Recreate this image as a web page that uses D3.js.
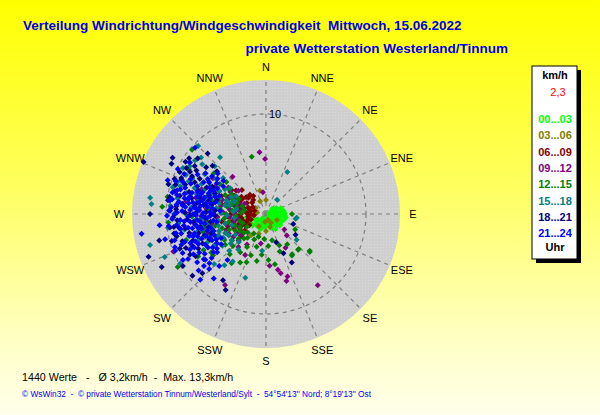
<!DOCTYPE html>
<html>
<head>
<meta charset="utf-8">
<script src="https://cdn.jsdelivr.net/npm/d3@7"></script>
<style>
  body { margin: 0; }
  svg { display: block; font-family: Arial, "Liberation Sans", sans-serif; }
</style>
</head>
<body>
<div class="chart-wrapper"></div>
<script>

// wind direction (deg) and speed (km/h) per 3 hour slot
const slots = ['00...03', '03...06', '06...09', '09...12', '12...15', '15...18', '18...21', '21...24']
const slotColors = ['#00ff00', '#808000', '#800000', '#800080', '#008000', '#008080', '#000080', '#0000ff']

const slot0 = [[63,0.45],[66,1.0],[85,1.2],[103,1.3],[121,1.2],[130,0.8],[166,0.8],[202,1.1],[225,1.4],[243,1.8],[249,1.4],[233,1.0],[117,0.45],[90,0.8],[75,1.55],[93,1.7],[132,1.5],[184,1.3],[70,0.7],[80,1.4],[95,1.0],[100,1.5],[110,0.9],[115,1.6],[125,1.0],[140,1.1],[145,0.6],[150,1.3],[155,0.9],[170,1.1],[175,0.5],[190,0.7],[195,1.4],[210,0.9],[215,1.5],[220,0.6],[240,1.2],[255,1.6],[260,2.0],[250,2.2],[88,1.9],[98,0.6],[108,1.9],[60,1.2],[50,0.8],[105,1.1],[120,1.7],[135,1.3],[85,0.3],[140,0.4],
  [80,1.8],[95,1.9],[100,2.0],[112,1.4],[118,1.2],[128,1.8],[138,1.6],[148,1.8],[160,1.5],[68,1.6],[78,1.0],[92,0.5],[107,0.6],[230,1.7],[236,2.0],[245,2.3],[200,1.6],[180,0.9]]

const slot1 = [[335,1.4],[162,0.6],[187,0.8],[230,3.1],[0,1.4],[119,1.25],[163,1.35],[300,1.2],[310,1.8],[320,2.2],[280,0.9],[260,1.5],[240,1.9],[210,1.4],[200,2.1],[150,1.0],[345,2.4],[290,2.6],[215,2.6],[180,1.7]]

const slot2 = [[289,2.8],[268,3.1],[320,2.5],[242,2.4],[305,4.2],[275,2.0],[280,1.6],[285,2.3],[290,1.9],[295,2.9],[300,2.2],[305,3.0],[310,2.6],[315,3.4],[262,2.5],[256,1.8],[250,2.9],[246,3.5],[240,3.0],[270,1.5],[264,1.2],[276,3.6],[282,3.9],[272,4.3],[266,3.8],[258,3.4],[252,4.0],[288,3.5],[294,4.1],[298,1.5],[310,1.8],[318,1.9],[325,2.2],[236,2.0],[232,2.7],[228,3.3],[278,2.8],[286,1.2],[260,4.5],[270,2.5],[300,3.7],[248,2.1],[292,4.8],[283,4.6],[267,4.9],
  [275,3.2],[280,2.7],[270,3.5],[265,2.8],[260,3.1],[255,2.4],[250,1.6],[245,2.6],[290,3.1],[296,3.5],[303,2.8],[308,3.8],[313,2.4],[285,1.7],[272,1.9],[262,1.8]]

const slot3 = [[136,3.0],[176,5.2],[168,5.7],[166,6.1],[163,7.0],[207,4.6],[212,3.6],[144,8.8],[354,6.2],[359,5.5],[352,2.2],[210,8.2],[248,10.0],[304,6.4],[318,5.0],[130,2.4],[150,3.9],[190,3.0],[161,6.6],
  [272,4.3],[278,3.7],[284,3.2],[289,2.7],[295,2.4],[266,4.9],[260,5.5],[255,4.1],[250,3.5],[245,3.0],[268,6.5],[275,6.0],[282,5.4],[288,4.6],[293,4.0],[300,3.5],[262,7.2],[257,6.7],[251,6.1],[246,5.5],[240,4.9],[270,7.7],[279,8.1],[291,6.9],[298,5.8],[305,4.6],[235,4.0],[230,3.3],[276,2.6],[261,2.9],
  [265,3.6],[271,3.1],[280,4.6],[286,4.1],[292,3.0],[256,3.3],[248,4.3],[242,4.2],[237,3.5],[226,3.8],[220,4.3],[264,6.1],[258,6.3],[285,6.3],[296,5.2],[302,4.2],[310,3.6],[283,7.2]]

const slot4 = [[346,5.9],[311,9.8],[90,2.6],[131,5.8],[137,4.8],[147,4.8],[177,4.6],[191,4.8],[239,10.3],[274,10.4],[280,10.0],[138,4.8],[130,5.7],[148,4.9],[202,5.2],[208,5.5],[157,3.4],[176,3.2],[167,2.7],[184,2.5],[196,3.4],[210,3.8],[222,3.3],[145,3.7],[118,3.3],[160,4.0],[186,4.1],[200,4.4],[214,4.6],[170,5.1],[300,8.9],[265,9.8],[252,8.4],[238,8.0],[232,6.7],[233,5.1],
  [270,5.3],[276,4.6],[281,4.0],[286,3.5],[291,3.1],[262,5.9],[257,5.2],[252,4.6],[247,4.0],[242,3.5],[237,3.1],[266,3.0],[273,2.5],[280,2.2],[255,2.7],[248,2.5],[268,7.4],[274,6.7],[279,6.2],[284,5.6],[289,5.0],[295,4.5],[300,4.0],[260,7.0],[254,6.5],[249,5.9],[244,5.4],[238,4.9],[232,4.3],[228,3.7],[235,6.7],[240,7.2],[303,5.5],[308,6.6],[296,8.2],
  [225,2.6],[218,3.0],[212,2.3],[205,2.8],[198,2.4],[230,2.9],[236,2.3],[243,2.9],[250,3.3],[258,3.8],[264,4.2],[270,4.0],[276,3.4],[282,3.0],[288,2.5],[294,3.7],[299,3.1],[304,4.5],[309,5.1],[275,5.8],[266,6.5],[258,6.2],[245,6.2],[222,5.4],[215,6.0],[226,4.6]]

const slot5 = [[27,4.7],[38,1.8],[97,3.1],[130,4.0],[278,11.7],[275,11.5],[255,12.0],[309,8.8],[307,8.9],[198,6.7],[186,3.7],[233,4.3],[99,3.0],[290,9.4],[286,9.7],[262,9.9],[302,9.0],[247,11.0],[219,6.6],[226,7.2],[240,9.9],[321,7.3],[315,9.6],
  [270,8.0],[275,7.5],[281,6.9],[286,6.2],[291,5.8],[296,5.2],[301,4.8],[306,4.4],[265,7.1],[260,6.4],[255,5.6],[250,5.0],[245,4.5],[240,4.3],[272,6.0],[277,5.0],[282,4.2],[287,3.8],[292,3.4],[262,4.8],[257,4.2],[252,3.6],[268,3.9],[274,3.3],[279,3.0],[285,8.2],[290,7.6],[295,7.1],[300,6.6],[305,6.1],[310,5.6],[264,8.8],[259,8.3],[254,7.8],[249,7.2],[244,6.6],[239,6.0],[234,5.4],[280,9.0],[296,8.9],[313,7.0],[271,4.5],[288,4.9],[248,6.1],[256,4.9],[263,3.2],[283,3.7],
  [275,9.6],[281,8.0],[286,7.2],[292,6.6],[297,6.2],[303,7.3],[308,8.1],[311,8.6],[304,9.2],[299,9.5],[293,8.4],[288,9.0],[270,9.2],[266,6.3],[261,5.7],[256,7.0],[250,6.7],[246,5.2],[241,4.9],[236,3.7],[230,4.6],[225,5.2],[218,4.5],[215,5.8],[224,3.9],[277,5.7],[283,4.8],[289,4.2],[296,3.9],[301,3.5]]

const slot6 = [[293,13.3],[243,11.7],[250,12.5],[301,10.9],[298,10.7],[311,6.5],[208,8.6],[156,4.3],[152,5.5],[256,11.0],[270,11.6],[306,9.5],[316,8.4],[230,9.6],[213,7.9],[125,3.6],[110,2.9],[160,3.0],[227,8.7],[238,9.8],[287,10.2],
  [272,9.6],[268,9.3],[275,9.0],[280,9.8],[284,9.4],[288,9.5],[292,9.1],[296,9.6],[262,9.7],[258,9.4],[254,9.8],[266,8.9],[271,8.1],[277,8.4],[282,8.8],[286,8.0],[290,8.6],[294,7.8],[299,8.7],[260,8.2],[256,7.9],[252,8.8],[248,9.3],[264,7.3],[269,7.6],[274,6.8],[279,7.0],[284,6.8],[289,7.2],[294,6.5],[298,7.5],[302,8.2],[259,6.7],[254,7.0],[250,7.8],[245,7.0],[267,6.1],[272,6.0],[278,6.3],[283,5.9],[288,6.0],[292,5.5],[297,6.0],[262,5.6],[257,5.9],[251,5.8],[273,9.0],[278,9.9],[262,9.3],[246,8.0],[242,8.6],[286,5.1],[280,5.5],[274,5.1],[268,5.1],[300,9.2],[304,8.6],[291,9.8],[243,7.6],[239,8.2],[308,7.6],[312,7.2],[297,8.3],[293,9.2],[282,7.6],[276,7.2],[271,7.0],[266,7.9],[261,8.8],[256,9.2],[247,8.7],[251,6.5],[246,6.2],[303,9.6],[309,8.8]]

const slot7 = [[261,12.6],[313,9.7],[233,7.6],[235,8.4],[225,9.3],[264,10.7],[289,10.4],[220,6.0],[283,9.6],[272,9.7],[256,10.4],[248,9.8],[240,9.0],[230,8.1],[297,9.9],[304,9.2],
  [270,9.1],[272,8.4],[268,7.8],[275,7.2],[265,6.9],[278,8.8],[281,7.9],[284,7.1],[262,8.3],[259,7.5],[257,6.6],[254,8.0],[266,5.9],[271,6.3],[276,5.4],[280,6.1],[286,5.8],[289,6.7],[292,7.4],[295,6.2],[298,5.5],[301,6.8],[288,8.5],[285,9.2],[279,9.5],[274,9.5],[267,9.4],[263,9.0],[260,8.7],[252,7.2],[250,6.4],[248,5.6],[263,5.3],[274,4.6],[283,5.2],[291,5.0],[294,5.7],[303,5.1],[306,6.0],[300,7.9],[295,8.3],[291,8.9],[277,6.6],[273,7.6],[269,7.0],[264,7.6],[261,6.2],[256,5.7],[251,8.6],[246,7.4],[243,6.8],[240,7.7],[238,6.3],[236,5.4],[242,5.1],[272,5.6],[282,6.5],[286,7.7],[290,6.1],[299,6.5],[304,7.3],[308,5.4],[271,8.9],[276,9.0],[281,8.3],[266,8.6],[258,9.2],[254,9.5],[250,9.0],[245,8.4],[268,6.4],[274,6.9],[279,7.4],[283,7.8],[263,6.6],[258,6.9],[254,6.1],[249,6.9],[285,6.4],[289,5.4],[277,5.9],[270,5.3],[297,7.0],[302,5.8],[244,6.0],[239,5.7],[234,6.5],[231,7.0],
  [275,8.1],[270,7.3],[265,8.2],[260,7.9],[257,8.7],[253,7.6],[249,8.1],[245,7.9],[241,8.3],[237,7.3],[234,7.7],[286,8.9],[282,9.1],[278,9.7],[292,8.1],[288,7.2],[281,5.7],[261,5.0],[252,5.5],[247,6.1],[243,5.6],[240,6.7],[235,6.0],[232,6.2],[229,7.5],[305,6.6],[310,6.3],[293,6.0],[268,5.6],[273,6.7],[278,7.8],[284,8.4],[263,9.8],[269,9.9],[250,9.7],[245,9.2],[241,9.5],[230,8.8],[226,7.9],[222,7.0],[219,8.3],[290,9.6],[296,9.1],[280,6.8],[287,6.8],[276,8.4],[261,7.1],[255,7.4],[249,7.6]]

const allSlots = [slot0, slot1, slot2, slot3, slot4, slot5, slot6, slot7]

const directions = ['N', 'NNE', 'NE', 'ENE', 'E', 'ESE', 'SE', 'SSE', 'S', 'SSW', 'SW', 'WSW', 'W', 'WNW', 'NW', 'NNW']
const rings = [10]
const maxSpeed = 13.4
const currentSpeed = '2,3'

const titleText = 'Verteilung Windrichtung/Windgeschwindigkeit  Mittwoch, 15.06.2022'
const subtitleText = 'private Wetterstation Westerland/Tinnum'
const statsText = '1440 Werte   -   Ø 3,2km/h  -  Max. 13,3km/h'
const footerText = '© WsWin32  -  © private Wetterstation Tinnum/Westerland/Sylt  -  54°54\'13\'\' Nord; 8°19\'13\'\' Ost'

const width = 600
const height = 415
const cx = 266
const cy = 214
const radius = 134

const svg = d3.select('.chart-wrapper')
.append('svg')
.attr('width', width)
.attr('height', height)

const defs = svg.append('defs')

const bg = defs.append('linearGradient')
.attr('id', 'bg')
.attr('x1', 0).attr('y1', 0).attr('x2', 0).attr('y2', 1)

bg.append('stop').attr('offset', '0%').attr('stop-color', '#ffff00')
bg.append('stop').attr('offset', '45%').attr('stop-color', '#ffff60')
bg.append('stop').attr('offset', '82%').attr('stop-color', '#ffffc4')
bg.append('stop').attr('offset', '100%').attr('stop-color', '#ffffec')

const dots = defs.append('pattern')
.attr('id', 'dots')
.attr('width', 3).attr('height', 3)
.attr('patternUnits', 'userSpaceOnUse')

dots.append('rect').attr('width', 3).attr('height', 3).attr('fill', '#cfcfcf')
dots.append('rect').attr('width', 1).attr('height', 1).attr('fill', '#dadada')

svg.append('rect')
.attr('width', width)
.attr('height', height)
.attr('fill', 'url(#bg)')

// titles
svg.append('text')
.attr('x', 23).attr('y', 30)
.attr('fill', '#0000f0')
.style('font-size', '13.5px')
.style('font-weight', 'bold')
.style('white-space', 'pre')
.text(titleText)

svg.append('text')
.attr('x', 508).attr('y', 53)
.attr('text-anchor', 'end')
.attr('fill', '#0000f0')
.style('font-size', '13.5px')
.style('font-weight', 'bold')
.text(subtitleText)

// polar plot
const r = d3.scaleLinear()
.domain([0, maxSpeed])
.range([0, radius])

const angle = d3.scaleLinear()
.domain([0, 360])
.range([0, 2 * Math.PI])

const polar = svg.append('g')
.attr('transform', `translate(${cx},${cy})`)

polar.append('circle')
.attr('r', radius)
.attr('fill', 'url(#dots)')

polar.selectAll('.spoke')
.data(directions)
.enter()
.append('line')
.attr('class', 'spoke')
.attr('x1', 0).attr('y1', 0)
.attr('x2', (d, i) => radius * Math.sin(angle(i * 22.5)))
.attr('y2', (d, i) => -radius * Math.cos(angle(i * 22.5)))
.attr('stroke', '#808080')
.attr('stroke-width', 1.2)
.attr('stroke-dasharray', '4,4')

polar.selectAll('.ring')
.data(rings)
.enter()
.append('circle')
.attr('class', 'ring')
.attr('r', d => r(d))
.attr('fill', 'none')
.attr('stroke', '#808080')
.attr('stroke-width', 1.2)
.attr('stroke-dasharray', '4,4')

polar.selectAll('.ring-label')
.data(rings)
.enter()
.append('text')
.attr('class', 'ring-label')
.attr('x', 9)
.attr('y', d => -r(d) + 4)
.attr('text-anchor', 'middle')
.style('font-size', '11px')
.text(d => d)

polar.selectAll('.dir-label')
.data(directions)
.enter()
.append('text')
.attr('class', 'dir-label')
.attr('x', (d, i) => 147 * Math.sin(angle(i * 22.5)))
.attr('y', (d, i) => -147 * Math.cos(angle(i * 22.5)) + 4)
.attr('text-anchor', 'middle')
.style('font-size', '11px')
.text(d => d)

const diamond = d3.symbol(d3.symbolSquare, 18)

allSlots.forEach((points, i) => {
    polar.append('g')
    .selectAll('path')
    .data(points)
    .enter()
    .append('path')
    .attr('d', diamond)
    .attr('transform', d => {
        let a = angle(d[0])
        let x = r(d[1]) * Math.sin(a)
        let y = -r(d[1]) * Math.cos(a)
        return `translate(${x},${y}) rotate(45)`
    })
    .attr('fill', slotColors[i])
})

// legend
const legend = svg.append('g')
.attr('transform', 'translate(532,66)')

legend.append('rect')
.attr('x', 4).attr('y', 4)
.attr('width', 45).attr('height', 193)
.attr('fill', '#000')

legend.append('rect')
.attr('width', 45).attr('height', 193)
.attr('fill', '#fff')
.attr('stroke', '#000')

legend.append('text')
.attr('x', 23).attr('y', 13)
.attr('text-anchor', 'middle')
.style('font-size', '11px')
.style('font-weight', 'bold')
.text('km/h')

legend.append('text')
.attr('x', 26).attr('y', 30)
.attr('text-anchor', 'middle')
.attr('fill', '#ff0000')
.style('font-size', '11px')
.text(currentSpeed)

legend.selectAll('.slot')
.data(slots)
.enter()
.append('text')
.attr('class', 'slot')
.attr('x', 23)
.attr('y', (d, i) => 57 + i * 16.3)
.attr('text-anchor', 'middle')
.attr('fill', (d, i) => slotColors[i])
.style('font-size', '11px')
.style('font-weight', 'bold')
.text(d => d)

legend.append('text')
.attr('x', 23).attr('y', 185)
.attr('text-anchor', 'middle')
.style('font-size', '11px')
.style('font-weight', 'bold')
.text('Uhr')

// footer
svg.append('text')
.attr('x', 22).attr('y', 381)
.style('font-size', '10.7px')
.style('white-space', 'pre')
.text(statsText)

svg.append('text')
.attr('x', 22).attr('y', 397)
.attr('fill', '#0000f0')
.style('font-size', '8.3px')
.style('white-space', 'pre')
.text(footerText)

</script>
</body>
</html>
